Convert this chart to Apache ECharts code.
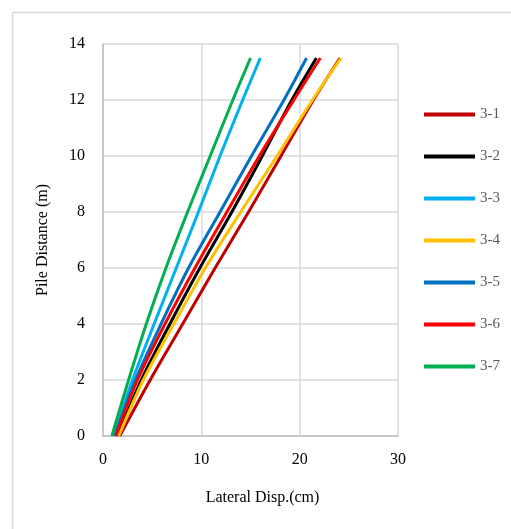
<!DOCTYPE html>
<html>
<head>
<meta charset="utf-8">
<script src="https://cdn.jsdelivr.net/npm/echarts@6/dist/echarts.min.js"></script>
<style>html,body{margin:0;padding:0;background:#fff;}#c{width:511px;height:529px;}</style>
</head>
<body>
<div id="c"></div>
<script>
var depths = [0, 2, 4, 6, 8, 10, 12, 13.5];
var names = ['3-1', '3-2', '3-3', '3-4', '3-5', '3-6', '3-7'];
var colors = ['#C00000', '#000000', '#00B0F0', '#FFC000', '#0070C0', '#FF0000', '#00B050'];
var s31 = [1.7, 4.8, 8.1, 11.4, 14.8, 18.1, 21.4, 24.1];
var s32 = [1.5, 3.9, 6.8, 9.85, 13.1, 16.2, 19.2, 21.7];
var s33 = [1.1, 3.0, 5.2, 7.45, 9.7, 11.9, 14.2, 16.0];
var s34 = [1.6, 4.1, 7.2, 10.4, 14.0, 17.7, 21.3, 24.2];
var s35 = [1.2, 3.3, 5.9, 8.7, 11.9, 15.1, 18.4, 20.7];
var s36 = [1.3, 3.5, 6.3, 9.35, 12.6, 15.9, 19.4, 22.1];
var s37 = [0.9, 2.6, 4.4, 6.4, 8.6, 10.9, 13.2, 15.0];
var xTicks = [0, 10, 20, 30];
var yTicks = [0, 2, 4, 6, 8, 10, 12, 14];
var allSeries = [s31, s32, s33, s34, s35, s36, s37];

var font = '"Liberation Serif", "Times New Roman", serif';
var series = allSeries.map(function (vals, i) {
  return {
    name: names[i],
    type: 'line',
    data: vals.map(function (v, k) { return [v, depths[k]]; }),
    smooth: 0.3,
    showSymbol: false,
    symbol: 'none',
    lineStyle: { color: colors[i], width: 3 },
    itemStyle: { color: colors[i] },
    animation: false
  };
});

var chart = echarts.init(document.getElementById('c'));
chart.setOption({
  animation: false,
  backgroundColor: '#fff',
  graphic: [{
    type: 'rect', left: 10, top: 10, silent: true,
    shape: { width: 600, height: 600 },
    style: { fill: 'none', stroke: '#d9d9d9', lineWidth: 1.5 }
  }],
  grid: { left: 103, right: 113, top: 44, bottom: 93 },
  xAxis: {
    type: 'value', min: xTicks[0], max: xTicks[xTicks.length - 1], interval: 10,
    name: 'Lateral Disp.(cm)', nameLocation: 'middle', nameGap: 54,
    nameTextStyle: { fontFamily: font, fontSize: 16, color: '#000', padding: [0, 0, 0, 24] },
    axisLine: { show: true, lineStyle: { color: '#bfbfbf', width: 1.5 } },
    axisTick: { show: false },
    axisLabel: { fontFamily: font, fontSize: 16, color: '#000', margin: 16 },
    splitLine: { show: true, lineStyle: { color: '#d9d9d9', width: 1.5 } }
  },
  yAxis: {
    type: 'value', min: yTicks[0], max: yTicks[yTicks.length - 1], interval: 2,
    name: 'Pile Distance (m)', nameLocation: 'middle', nameGap: 52,
    nameTextStyle: { fontFamily: font, fontSize: 16, color: '#000' },
    axisLine: { show: true, lineStyle: { color: '#bfbfbf', width: 1.5 } },
    axisTick: { show: false },
    axisLabel: { fontFamily: font, fontSize: 16, color: '#000', margin: 18 },
    splitLine: { show: true, lineStyle: { color: '#d9d9d9', width: 1.5 } }
  },
  legend: {
    orient: 'vertical', left: 419, top: 102,
    icon: 'rect', itemWidth: 51, itemHeight: 4, itemGap: 27,
    textStyle: { fontFamily: font, fontSize: 15, color: '#595959' },
    data: names
  },
  series: series
});
</script>
</body>
</html>
